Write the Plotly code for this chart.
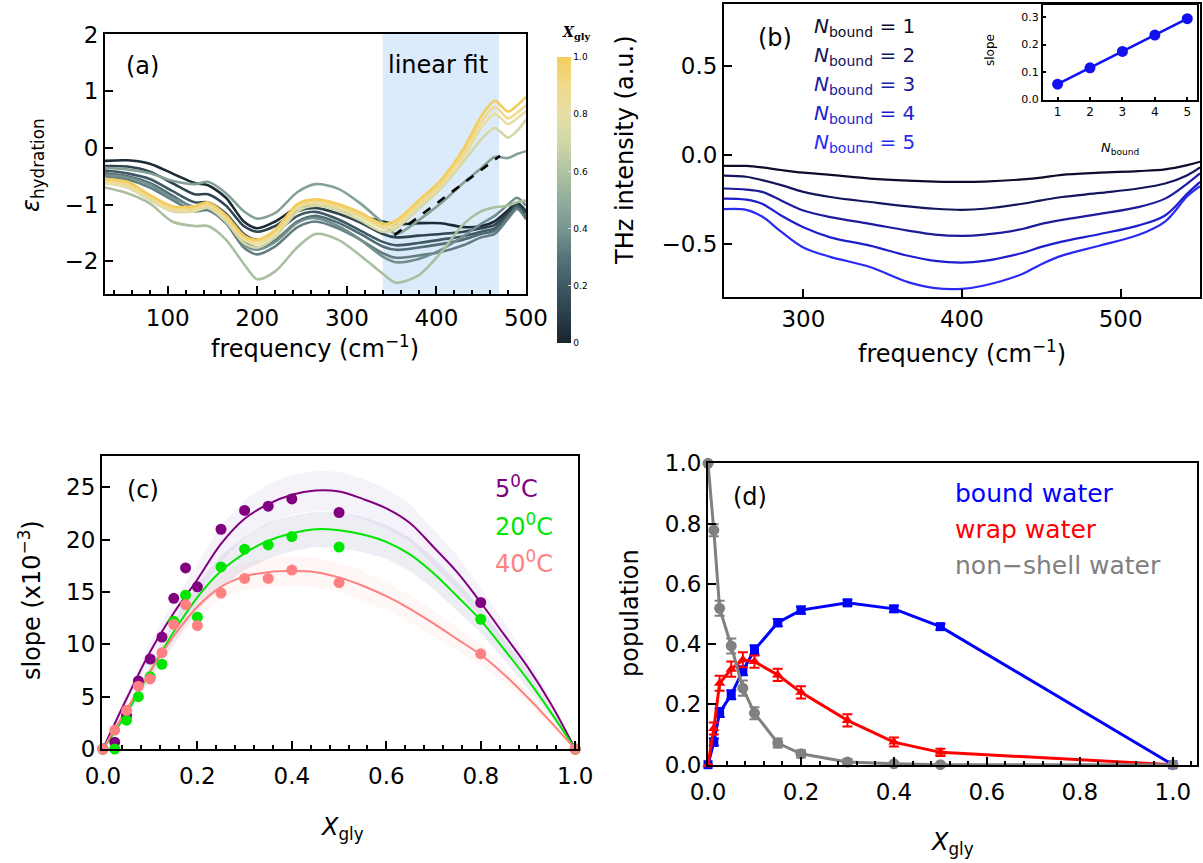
import plotly.graph_objects as go
from plotly.colors import sample_colorscale

W, H = 1203, 863
FONT = "DejaVu Sans"

# ---------------- panel (a): hydration spectra ----------------
freq_a = [30, 55, 80, 105, 130, 145, 165, 185, 200, 220, 245, 265, 290, 315,
          340, 355, 380, 405, 430, 450, 465, 480, 490, 500]
xgly_a = [0.03, 0.12, 0.20, 0.27, 0.33, 0.38, 0.45, 0.58, 0.72, 0.82, 0.90, 1.00]
eps_a = [
    [-0.23, -0.22, -0.28, -0.45, -0.62, -0.66, -0.88, -1.30, -1.42, -1.30, -1.05, -1.00, -1.08, -1.20, -1.30, -1.35, -1.33, -1.33, -1.40, -1.38, -1.30, -1.10, -0.97, -1.12],
    [-0.32, -0.33, -0.42, -0.62, -0.82, -0.82, -1.02, -1.38, -1.48, -1.38, -1.12, -1.06, -1.16, -1.32, -1.52, -1.58, -1.55, -1.52, -1.48, -1.42, -1.36, -1.15, -1.00, -1.15],
    [-0.40, -0.45, -0.55, -0.76, -0.96, -0.96, -1.16, -1.52, -1.62, -1.50, -1.20, -1.13, -1.26, -1.46, -1.66, -1.72, -1.68, -1.62, -1.56, -1.48, -1.42, -1.20, -1.03, -1.22],
    [-0.45, -0.50, -0.62, -0.84, -1.06, -1.04, -1.26, -1.66, -1.76, -1.63, -1.30, -1.20, -1.32, -1.52, -1.74, -1.80, -1.76, -1.70, -1.62, -1.52, -1.46, -1.22, -1.05, -1.26],
    [-0.50, -0.56, -0.70, -0.92, -1.12, -1.10, -1.33, -1.76, -1.88, -1.74, -1.40, -1.30, -1.42, -1.62, -1.86, -1.94, -1.90, -1.84, -1.72, -1.58, -1.52, -1.25, -1.08, -1.25],
    [-0.48, -0.52, -0.65, -0.88, -1.04, -1.04, -1.28, -1.70, -1.80, -1.66, -1.32, -1.24, -1.38, -1.62, -1.92, -2.02, -1.96, -1.80, -1.56, -1.34, -1.20, -1.00, -0.88, -1.02],
    [-0.35, -0.38, -0.45, -0.58, -0.64, -0.60, -0.80, -1.12, -1.25, -1.15, -0.78, -0.64, -0.72, -0.98, -1.32, -1.52, -1.28, -0.98, -0.62, -0.36, -0.16, -0.18, -0.11, -0.06],
    [-0.70, -0.80, -0.98, -1.30, -1.38, -1.38, -1.62, -2.05, -2.32, -2.18, -1.75, -1.52, -1.62, -1.90, -2.22, -2.38, -2.25, -1.85, -1.35, -1.12, -1.05, -1.02, -0.96, -0.93],
    [-0.62, -0.70, -0.92, -1.12, -1.12, -1.06, -1.30, -1.68, -1.76, -1.58, -1.12, -1.02, -1.10, -1.28, -1.48, -1.42, -1.08, -0.72, -0.25, 0.15, 0.35, 0.18, 0.30, 0.50],
    [-0.62, -0.68, -0.90, -1.10, -1.10, -1.02, -1.25, -1.62, -1.70, -1.52, -1.06, -0.98, -1.06, -1.22, -1.42, -1.38, -1.02, -0.68, -0.18, 0.35, 0.60, 0.42, 0.52, 0.65],
    [-0.58, -0.64, -0.86, -1.06, -1.06, -0.99, -1.22, -1.58, -1.65, -1.48, -1.02, -0.94, -1.02, -1.18, -1.38, -1.33, -0.98, -0.63, -0.10, 0.45, 0.72, 0.52, 0.62, 0.75],
    [-0.55, -0.60, -0.83, -1.03, -1.03, -0.96, -1.19, -1.55, -1.62, -1.45, -0.99, -0.91, -0.99, -1.14, -1.34, -1.28, -0.93, -0.57, -0.02, 0.56, 0.83, 0.64, 0.75, 0.90],
]
fit_freq = [353, 471]
fit_eps = [-1.54, -0.14]
fit_window = [340, 470]

gly_scale = [[0.00, "#18232d"], [0.10, "#2a3f4a"], [0.20, "#3f5964"],
             [0.30, "#58747b"], [0.40, "#789591"], [0.50, "#93ad9d"],
             [0.60, "#afc3a1"], [0.70, "#cfd7a7"], [0.80, "#e7dea6"],
             [0.90, "#f0d98a"], [1.00, "#f4cd5e"]]
cbar_vals = [0, 0.2, 0.4, 0.6, 0.8, 1.0]
cbar_text = ["0", "0.2", "0.4", "0.6", "0.8", "1.0"]

# ---------------- panel (b): model THz spectra ----------------
freq_b = [250, 264, 274, 286, 300, 317, 342, 366, 383, 400, 414, 438, 450,
          463, 487, 511, 528, 542, 550]
n_bound = [1, 2, 3, 4, 5]
thz_b = [
    [-0.062, -0.062, -0.070, -0.085, -0.100, -0.112, -0.133, -0.145, -0.150, -0.152, -0.150, -0.138, -0.128, -0.112, -0.100, -0.091, -0.081, -0.057, -0.038],
    [-0.117, -0.123, -0.142, -0.170, -0.208, -0.237, -0.265, -0.290, -0.303, -0.309, -0.303, -0.275, -0.256, -0.237, -0.214, -0.189, -0.161, -0.114, -0.070],
    [-0.189, -0.195, -0.208, -0.256, -0.313, -0.350, -0.388, -0.426, -0.449, -0.456, -0.449, -0.417, -0.388, -0.366, -0.332, -0.294, -0.246, -0.161, -0.104],
    [-0.246, -0.252, -0.275, -0.341, -0.407, -0.464, -0.511, -0.568, -0.597, -0.606, -0.597, -0.552, -0.518, -0.488, -0.445, -0.398, -0.341, -0.218, -0.152],
    [-0.305, -0.309, -0.347, -0.432, -0.521, -0.574, -0.631, -0.716, -0.750, -0.754, -0.735, -0.670, -0.615, -0.567, -0.510, -0.451, -0.375, -0.233, -0.176],
]
n_colors = ["#0d0d2b", "#15155e", "#1b1b9c", "#1e1ecc", "#2a2af5"]
slope_inset = [0.055, 0.115, 0.175, 0.235, 0.295]

# ---------------- panel (c): slope vs X_gly ----------------
xgly_c = [0, 0.025, 0.05, 0.075, 0.1, 0.125, 0.15, 0.175, 0.2, 0.25, 0.3,
          0.35, 0.4, 0.5, 0.8, 1.0]
slope_5C = [0, 0.65, 3.2, 6.5, 8.6, 10.7, 14.4, 17.3, 15.5, 21.0, 22.8, 23.2, 23.9, 22.6, 14.0, 0]
slope_20C = [0, 0.0, 2.75, 5.0, 6.9, 8.1, 12.2, 14.7, 12.6, 17.4, 19.1, 19.5, 20.3, 19.3, 12.4, 0]
slope_40C = [0, 1.8, 3.7, 6.0, 6.7, 9.2, 11.9, 13.8, 11.8, 14.9, 16.3, 16.3, 17.1, 15.9, 9.1, 0]

fit_x = [0, 0.05, 0.1, 0.15, 0.2, 0.25, 0.3, 0.35, 0.4, 0.45, 0.5, 0.55, 0.6,
         0.65, 0.7, 0.75, 0.8, 0.85, 0.9, 0.95, 1.0]
fit_5C = [0, 4.8, 9.3, 13.0, 16.2, 19.6, 22.0, 23.4, 24.3, 24.7, 24.6, 23.9, 23.0, 21.6, 19.3, 16.9, 14.0, 10.9, 7.8, 4.2, 0]
fit_20C = [0, 3.4, 7.4, 11.2, 14.5, 17.0, 18.7, 19.9, 20.6, 21.0, 20.9, 20.5, 19.8, 18.6, 16.8, 14.6, 12.3, 9.5, 6.6, 3.4, 0]
fit_40C = [0, 3.8, 7.4, 10.8, 13.6, 15.5, 16.5, 16.9, 17.0, 16.9, 16.4, 15.6, 14.6, 13.4, 12.0, 10.5, 9.0, 7.1, 4.9, 2.5, 0]
band_5C = [0, 0.5, 0.9, 1.2, 1.5, 1.7, 1.8, 1.9, 1.9, 1.9, 1.9, 1.9, 1.9, 1.8, 1.7, 1.6, 1.4, 1.2, 0.9, 0.5, 0]
band_20C = [0, 0.4, 0.8, 1.1, 1.3, 1.5, 1.6, 1.7, 1.7, 1.7, 1.7, 1.7, 1.6, 1.6, 1.5, 1.4, 1.2, 1.0, 0.8, 0.4, 0]
band_40C = [0, 0.3, 0.6, 0.9, 1.1, 1.2, 1.3, 1.4, 1.4, 1.4, 1.4, 1.4, 1.3, 1.3, 1.2, 1.1, 1.0, 0.8, 0.6, 0.3, 0]
temp_labels = ["5<sup>0</sup>C", "20<sup>0</sup>C", "40<sup>0</sup>C"]
temp_colors = ["#800080", "#00e600", "#ff8080"]
band_colors = ["rgba(120,90,170,0.07)", "rgba(80,80,150,0.10)", "rgba(255,140,140,0.08)"]

# ---------------- panel (d): water populations ----------------
xgly_d = [0, 0.0125, 0.025, 0.05, 0.075, 0.1, 0.15, 0.2, 0.3, 0.4, 0.5, 1.0]
pop_bound = [0, 0.075, 0.173, 0.232, 0.312, 0.381, 0.471, 0.513, 0.537, 0.517, 0.458, 0]
pop_wrap = [0, 0.12, 0.27, 0.317, 0.348, 0.342, 0.298, 0.24, 0.147, 0.075, 0.041, 0]
pop_nonshell = [1.0, 0.778, 0.519, 0.394, 0.254, 0.171, 0.072, 0.036, 0.009, 0.003, 0.0, 0]
err_bound = [0, 0.012, 0.015, 0.015, 0.015, 0.015, 0.012, 0.012, 0.01, 0.01, 0.01, 0]
err_wrap = [0, 0.02, 0.025, 0.025, 0.025, 0.02, 0.02, 0.02, 0.02, 0.015, 0.012, 0]
err_nonshell = [0, 0.02, 0.025, 0.025, 0.025, 0.02, 0.015, 0.012, 0.01, 0.005, 0.005, 0]
pop_names = ["bound water", "wrap water", "non\u2212shell water"]
pop_colors = ["#0000ff", "#ff0000", "#808080"]


def xd(left, right):
    return [left / W, right / W]


def yd(top, bottom):
    return [1 - bottom / H, 1 - top / H]


def axis(**kw):
    d = dict(showline=True, linecolor="black", linewidth=2, mirror=True,
             showgrid=False, zeroline=False, automargin=False,
             ticks="inside", ticklen=8, tickwidth=2, tickcolor="black",
             tickfont=dict(family=FONT, size=23, color="black"))
    d.update(kw)
    return d


def ann(text, x, y, size=24, color="black", xanchor="center", angle=0,
        family=FONT):
    return dict(text=text, x=x / W, y=1 - y / H, xref="paper", yref="paper",
                showarrow=False, xanchor=xanchor, yanchor="middle",
                textangle=angle, font=dict(family=family, size=size, color=color))


fig = go.Figure()

# (a) spectra coloured by glycerol fraction
line_cols = sample_colorscale(gly_scale, xgly_a)
for xg, ys, col in zip(xgly_a, eps_a, line_cols):
    fig.add_trace(go.Scatter(x=freq_a, y=ys, mode="lines", xaxis="x", yaxis="y",
                             line=dict(color=col, width=2.6, shape="spline",
                                       smoothing=0.8),
                             showlegend=False, hoverinfo="skip"))
fig.add_trace(go.Scatter(x=fit_freq, y=fit_eps, mode="lines", xaxis="x", yaxis="y",
                         line=dict(color="black", width=2.6, dash="dash"),
                         showlegend=False))
fig.add_trace(go.Scatter(
    x=[None], y=[None], mode="markers", xaxis="x", yaxis="y", showlegend=False,
    marker=dict(color=[0], cmin=0, cmax=1, colorscale=gly_scale, showscale=True,
                colorbar=dict(x=557 / W, xanchor="left", y=1 - 200 / H,
                              yanchor="middle", len=286 / H, thickness=14,
                              outlinewidth=0, xpad=0, ypad=0, ticks="inside",
                              ticklen=3, tickcolor="#dddddd",
                              tickmode="array", tickvals=cbar_vals,
                              ticktext=cbar_text,
                              tickfont=dict(family=FONT, size=9, color="black")))))

# (b) model spectra
for ys, col in zip(thz_b, n_colors):
    fig.add_trace(go.Scatter(x=freq_b, y=ys, mode="lines", xaxis="x2", yaxis="y2",
                             line=dict(color=col, width=2.2, shape="spline"),
                             showlegend=False))
fig.add_trace(go.Scatter(x=n_bound, y=slope_inset, mode="lines+markers",
                         xaxis="x3", yaxis="y3",
                         line=dict(color="#1010f0", width=2.5),
                         marker=dict(color="#1010f0", size=11),
                         showlegend=False))

# (c) confidence bands, fits and measured slopes
for fit, band, bcol in zip([fit_5C, fit_20C, fit_40C],
                           [band_5C, band_20C, band_40C], band_colors):
    upper = [f + b for f, b in zip(fit, band)]
    lower = [f - b for f, b in zip(fit, band)]
    fig.add_trace(go.Scatter(x=fit_x + fit_x[::-1], y=upper + lower[::-1],
                             fill="toself", fillcolor=bcol, mode="lines",
                             line=dict(width=0), xaxis="x4", yaxis="y4",
                             showlegend=False, hoverinfo="skip"))
for fit, col in zip([fit_5C, fit_20C, fit_40C], temp_colors):
    fig.add_trace(go.Scatter(x=fit_x, y=fit, mode="lines", xaxis="x4", yaxis="y4",
                             line=dict(color=col, width=2, shape="spline"),
                             showlegend=False))
for ys, col in zip([slope_5C, slope_20C, slope_40C], temp_colors):
    fig.add_trace(go.Scatter(x=xgly_c, y=ys, mode="markers", xaxis="x4", yaxis="y4",
                             marker=dict(color=col, size=11), cliponaxis=False,
                             showlegend=False))

# (d) populations with error bars
for ys, err, col, sym, msize in zip([pop_bound, pop_wrap, pop_nonshell],
                                    [err_bound, err_wrap, err_nonshell],
                                    pop_colors,
                                    ["square", "triangle-up", "circle"],
                                    [9, 10, 11]):
    fig.add_trace(go.Scatter(x=xgly_d, y=ys, mode="lines+markers",
                             xaxis="x5", yaxis="y5", cliponaxis=False,
                             line=dict(color=col, width=3),
                             marker=dict(color=col, size=msize, symbol=sym),
                             error_y=dict(type="data", array=err, color=col,
                                          thickness=2, width=5),
                             showlegend=False))

annotations = [
    # (a)
    ann("(a)", 142, 66),
    ann("linear fit", 438, 65),
    ann("<i>\u03b5</i><sub>hydration</sub>", 33, 165, angle=-90),
    ann("frequency (cm<sup>\u22121</sup>)", 315, 347),
    ann("<b><i>X</i><sub>gly</sub></b>", 560, 33, size=14, xanchor="left",
        family="DejaVu Serif"),
    # (b)
    ann("(b)", 775, 38),
    ann("THz intensity (a.u.)", 625, 150, angle=-90),
    ann("frequency (cm<sup>\u22121</sup>)", 962, 352),
    ann("slope", 990, 50, size=12, angle=-90),
    ann("<i>N</i><sub>bound</sub>", 1120, 148, size=13),
    # (c)
    ann("(c)", 143, 490),
    ann("slope (x10<sup>\u22123</sup>)", 30, 600, angle=-90),
    ann("<i>X</i><sub>gly</sub>", 342, 828),
    # (d)
    ann("(d)", 750, 497),
    ann("population", 630, 613, angle=-90),
    ann("<i>X</i><sub>gly</sub>", 952, 843),
]
for i, (n, col) in enumerate(zip(n_bound, n_colors)):
    annotations.append(ann("<i>N</i><sub>bound</sub> = %d" % n, 812, 27 + 29 * i,
                           size=20, color=col, xanchor="left"))
for i, (lab, col) in enumerate(zip(temp_labels, temp_colors)):
    annotations.append(ann(lab, 493, 487 + 37.5 * i, color=col, xanchor="left"))
for i, (lab, col) in enumerate(zip(pop_names, pop_colors)):
    annotations.append(ann(lab, 953, 493 + 36 * i, size=25, color=col,
                           xanchor="left"))

fig.update_layout(
    width=W, height=H,
    margin=dict(l=0, r=0, t=0, b=0, pad=0, autoexpand=False),
    paper_bgcolor="white", plot_bgcolor="white", showlegend=False,
    font=dict(family=FONT, size=23, color="black"),
    shapes=[dict(type="rect", xref="x", yref="y domain", x0=fit_window[0],
                 x1=fit_window[1], y0=0, y1=1, fillcolor="#dcebfb",
                 line=dict(width=0), layer="below")],
    annotations=annotations,
    # panel (a)
    xaxis=axis(domain=xd(105, 526), anchor="y", range=[30, 500],
               tickmode="array", tickvals=[100, 200, 300, 400, 500],
               ticklabelstandoff=2,
               minor=dict(ticks="inside", tick0=0, dtick=20, ticklen=4,
                          tickwidth=1.5, tickcolor="black")),
    yaxis=axis(domain=yd(34, 294), anchor="x", range=[-2.58, 2.01],
               tickmode="array", tickvals=[-2, -1, 0, 1, 2]),
    # panel (b)
    xaxis2=axis(domain=xd(724, 1200), anchor="y2", range=[250, 550],
                tickmode="array", tickvals=[300, 400, 500]),
    yaxis2=axis(domain=yd(4, 297), anchor="x2", range=[-0.8, 0.85],
                tickmode="array", tickvals=[-0.5, 0, 0.5], tickformat=".1f"),
    # inset of (b)
    xaxis3=axis(domain=xd(1043, 1197), anchor="y3", range=[0.55, 5.3],
                tickmode="array", tickvals=n_bound, ticklen=3,
                tickfont=dict(family=FONT, size=12, color="black")),
    yaxis3=axis(domain=yd(5, 100), anchor="x3", range=[-0.003, 0.345],
                tickmode="array", tickvals=[0, 0.1, 0.2, 0.3], tickformat=".1f",
                ticklen=3, tickfont=dict(family=FONT, size=11, color="black")),
    # panel (c)
    xaxis4=axis(domain=xd(102, 578), anchor="y4", range=[-0.002, 1.006],
                tickmode="array", tickvals=[0, 0.2, 0.4, 0.6, 0.8, 1.0],
                tickformat=".1f", ticklabelstandoff=5,
                minor=dict(ticks="inside", tick0=0, dtick=0.04, ticklen=4,
                           tickwidth=1.5, tickcolor="black")),
    yaxis4=axis(domain=yd(456, 749), anchor="x4", range=[0, 28],
                tickmode="array", tickvals=[0, 5, 10, 15, 20, 25]),
    # panel (d)
    xaxis5=axis(domain=xd(708, 1197), anchor="y5", range=[0, 1.052],
                tickmode="array", tickvals=[0, 0.2, 0.4, 0.6, 0.8, 1.0],
                tickformat=".1f", ticklabelstandoff=5,
                minor=dict(ticks="inside", tick0=0, dtick=0.04, ticklen=4,
                           tickwidth=1.5, tickcolor="black")),
    yaxis5=axis(domain=yd(463, 765), anchor="x5", range=[-0.001, 1.001],
                tickmode="array", tickvals=[0, 0.2, 0.4, 0.6, 0.8, 1.0],
                tickformat=".1f"),
)

fig.write_html("out.html")
